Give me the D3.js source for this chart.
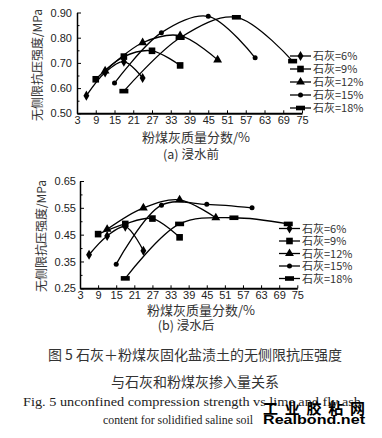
<!DOCTYPE html>
<html>
<head>
<meta charset="utf-8">
<script src="https://cdn.jsdelivr.net/npm/d3@7"></script>
<style>
  body { margin: 0; background: #fff; }
  svg { display: block; }
  .tick text { font-family: "Liberation Sans", Arial, sans-serif; font-size: 11px; fill: #222; }
  .cjk { font-family: "Noto Sans CJK SC", sans-serif; fill: #333; }
</style>
</head>
<body>
<svg width="382" height="438"></svg>
<script>
let svg = d3.select("svg");

// series labels and fly ash contents (x) for each lime content
const limeLabels = ["石灰=6%", "石灰=9%", "石灰=12%", "石灰=15%", "石灰=18%"];
const xLime6 = [6, 12, 18, 24];
const xLime9 = [9, 18, 27, 36];
const xLime12 = [12, 24, 36, 48];
const xLime15 = [15, 30, 45, 60];
const xLime18 = [18, 36, 54, 72];

// (a) before soaking, MPa
const before6 = [0.57, 0.662, 0.705, 0.64];
const before9 = [0.635, 0.725, 0.748, 0.69];
const before12 = [0.668, 0.78, 0.808, 0.712];
const before15 = [0.62, 0.82, 0.885, 0.72];
const before18 = [0.588, 0.80, 0.881, 0.707];

// (b) after soaking, MPa
const after6 = [0.375, 0.445, 0.48, 0.39];
const after9 = [0.452, 0.49, 0.51, 0.44];
const after12 = [0.47, 0.55, 0.58, 0.513];
const after15 = [0.34, 0.56, 0.563, 0.55];
const after18 = [0.287, 0.49, 0.513, 0.49];

const xTicks = [3, 9, 15, 21, 27, 33, 39, 45, 51, 57, 63, 69, 75];
const yTicksA = [0.5, 0.6, 0.7, 0.8, 0.9];
const yTicksB = [0.25, 0.35, 0.45, 0.55, 0.65];

const xs = [xLime6, xLime9, xLime12, xLime15, xLime18];
const markers = ["diamond", "square", "triangle", "circle", "bar"];

function drawMarker(g, type, cx, cy) {
    if (type == "diamond") {
        g.append("path").attr("d", d3.symbol(d3.symbolDiamond, 30)())
            .attr("transform", `translate(${cx},${cy})`).attr("fill", "#000");
    } else if (type == "square") {
        g.append("rect").attr("x", cx - 3.3).attr("y", cy - 3.3)
            .attr("width", 6.6).attr("height", 6.6).attr("fill", "#000");
    } else if (type == "triangle") {
        g.append("path").attr("d", d3.symbol(d3.symbolTriangle, 34)())
            .attr("transform", `translate(${cx},${cy})`).attr("fill", "#000");
    } else if (type == "circle") {
        g.append("circle").attr("cx", cx).attr("cy", cy).attr("r", 2.5).attr("fill", "#000");
    } else {
        g.append("rect").attr("x", cx - 4.5).attr("y", cy - 2.3)
            .attr("width", 9).attr("height", 4.6).attr("fill", "#000");
    }
}

function panel(opts) {
    let x = d3.scaleLinear().domain([3, 75]).range(opts.xRange);
    let y = d3.scaleLinear().domain(opts.yDomain).range(opts.yRange);
    let g = svg.append("g");

    // minor y ticks
    let step = opts.yTicks[1] - opts.yTicks[0];
    let minor = opts.yTicks.slice(0, -1).map(d => d + step / 2);
    g.append("g")
        .attr("transform", `translate(${opts.xRange[0]},0)`)
        .call(d3.axisLeft(y).tickValues(minor).tickSize(-2.5).tickFormat(""))
        .call(a => a.select(".domain").remove());

    g.append("g")
        .attr("transform", `translate(${opts.xRange[0]},0)`)
        .call(d3.axisLeft(y).tickValues(opts.yTicks).tickFormat(d3.format(".2f"))
            .tickSize(-4).tickSizeOuter(0).tickPadding(opts.yPad))
        .call(a => a.select(".domain").attr("stroke-width", 1.5));

    g.append("g")
        .attr("transform", `translate(0,${opts.yRange[0]})`)
        .call(d3.axisBottom(x).tickValues(xTicks).tickSize(-3).tickSizeOuter(0).tickPadding(2.5))
        .call(a => a.select(".domain").attr("stroke-width", 2));

    let line = d3.line()
        .x(d => x(d[0]))
        .y(d => y(d[1]))
        .curve(d3.curveCatmullRom.alpha(0.5));

    opts.series.forEach((vals, i) => {
        let pts = xs[i].map((xv, j) => [xv, vals[j]]);
        g.append("path")
            .datum(pts)
            .attr("fill", "none")
            .attr("stroke", "#000")
            .attr("stroke-width", 1.3)
            .attr("d", line);
        pts.forEach(p => drawMarker(g, markers[i], x(p[0]), y(p[1])));
    });

    // legend
    limeLabels.forEach((lab, i) => {
        let ly = opts.legY + i * opts.legStep;
        g.append("line")
            .attr("x1", opts.legX).attr("x2", opts.legX + 21)
            .attr("y1", ly).attr("y2", ly)
            .attr("stroke", "#000").attr("stroke-width", 1.3);
        drawMarker(g, markers[i], opts.legX + 10.5, ly);
        g.append("text")
            .attr("class", "cjk")
            .attr("x", opts.legX + 23).attr("y", ly + 4)
            .attr("font-size", 11)
            .text(lab);
    });

    // axis titles
    g.append("text")
        .attr("class", "cjk")
        .attr("transform", `translate(${opts.yTitle[0]},${opts.yTitle[1]}) rotate(-90)`)
        .attr("text-anchor", "middle")
        .attr("font-size", 12)
        .text("无侧限抗压强度/MPa");

    g.append("text")
        .attr("class", "cjk")
        .attr("x", opts.xTitle[0]).attr("y", opts.xTitle[1])
        .attr("text-anchor", "middle")
        .attr("font-size", 13)
        .text("粉煤灰质量分数/%");

    g.append("text")
        .attr("class", "cjk")
        .attr("x", opts.sub[0]).attr("y", opts.sub[1])
        .attr("text-anchor", "middle")
        .attr("font-size", 12.5)
        .text(opts.subText);
}

panel({
    xRange: [77, 302], yDomain: [0.5, 0.9], yRange: [113.3, 12.5],
    yTicks: yTicksA, yPad: 5,
    series: [before6, before9, before12, before15, before18],
    legX: 290, legY: 56, legStep: 13,
    yTitle: [42, 65], xTitle: [196, 141.5], sub: [191, 158.5], subText: "(a) 浸水前"
});

panel({
    xRange: [80, 297.3], yDomain: [0.25, 0.65], yRange: [288.3, 181],
    yTicks: yTicksB, yPad: 4,
    series: [after6, after9, after12, after15, after18],
    legX: 279, legY: 228.5, legStep: 12.5,
    yTitle: [46, 236], xTitle: [201, 314.5], sub: [186, 329.5], subText: "(b) 浸水后"
});

// caption
svg.append("text").attr("class", "cjk")
    .attr("x", 195).attr("y", 360).attr("text-anchor", "middle").attr("font-size", 14)
    .text("图 5  石灰＋粉煤灰固化盐渍土的无侧限抗压强度");
svg.append("text").attr("class", "cjk")
    .attr("x", 195).attr("y", 386.5).attr("text-anchor", "middle").attr("font-size", 14)
    .text("与石灰和粉煤灰掺入量关系");
svg.append("text")
    .attr("x", 23).attr("y", 406).attr("font-size", 12.5)
    .attr("font-family", "'Liberation Serif', serif").attr("fill", "#222")
    .attr("textLength", 338).attr("lengthAdjust", "spacingAndGlyphs")
    .text("Fig. 5 unconfined compression strength vs lime and fly ash");
svg.append("text")
    .attr("x", 103).attr("y", 424).attr("font-size", 12.5)
    .attr("font-family", "'Liberation Serif', serif").attr("fill", "#222")
    .attr("textLength", 150).attr("lengthAdjust", "spacingAndGlyphs")
    .text("content for solidified saline soil");

// watermark
svg.append("text")
    .attr("x", 263).attr("y", 414).attr("font-size", 15).attr("font-weight", "bold")
    .attr("font-family", "'Noto Sans CJK SC', sans-serif").attr("fill", "#000")
    .attr("textLength", 102).attr("lengthAdjust", "spacing")
    .text("工业胶粘网");
svg.append("text")
    .attr("x", 263).attr("y", 423.5).attr("font-size", 12.5).attr("font-weight", "bold")
    .attr("font-family", "'Liberation Sans', Arial, sans-serif").attr("fill", "#000")
    .attr("textLength", 102).attr("lengthAdjust", "spacingAndGlyphs")
    .text("Realbond.net");
</script>
</body>
</html>
